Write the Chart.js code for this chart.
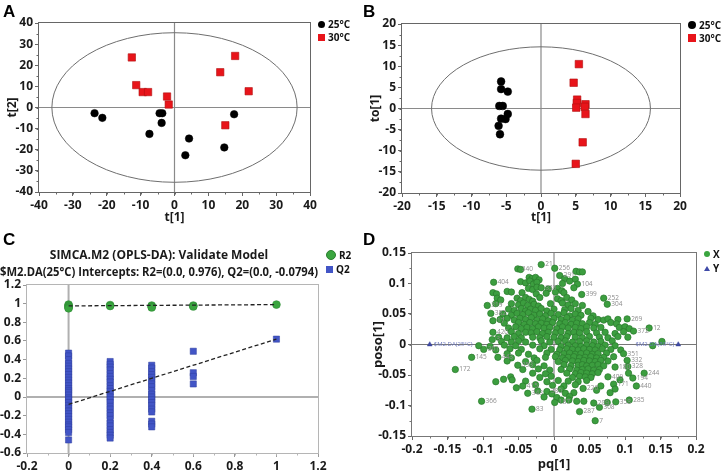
<!DOCTYPE html>
<html><head><meta charset="utf-8">
<script src="https://cdn.jsdelivr.net/npm/chart.js@4.4.1/dist/chart.umd.min.js"></script>
<style>
html,body{margin:0;padding:0;background:#fff;}
#wrap{position:relative;width:721px;height:473px;overflow:hidden;font-family:"Open Sans",sans-serif;}
canvas{position:absolute;}
.letter{position:absolute;font:bold 17px/17px "Liberation Sans",Arial,sans-serif;color:#000;}
.leg{position:absolute;font:bold 10px/12px "Open Sans",sans-serif;color:#111;white-space:nowrap;display:flex;align-items:center;}
.mk{display:inline-block;margin-right:3px;}
</style></head><body>
<div id="wrap">
<canvas id="cA" width="360" height="230" style="left:0;top:0"></canvas>
<canvas id="cB" width="361" height="230" style="left:360px;top:0"></canvas>
<canvas id="cC" width="360" height="243" style="left:0;top:230px"></canvas>
<canvas id="cD" width="361" height="243" style="left:360px;top:230px"></canvas>
<div class="letter" style="left:3px;top:3px">A</div>
<div class="letter" style="left:363px;top:3px">B</div>
<div class="letter" style="left:3px;top:231px">C</div>
<div class="letter" style="left:363px;top:231px">D</div>
<div class="leg" style="left:318px;top:18px"><span class="mk" style="width:7px;height:7px;border-radius:50%;background:#000"></span>25°C</div>
<div class="leg" style="left:318px;top:31px"><span class="mk" style="width:7px;height:7px;background:#e8141a"></span>30°C</div>
<div class="leg" style="left:688px;top:19px"><span class="mk" style="width:8px;height:8px;border-radius:50%;background:#000"></span>25°C</div>
<div class="leg" style="left:688px;top:32px"><span class="mk" style="width:8px;height:8px;background:#e8141a"></span>30°C</div>
<div class="leg" style="left:326px;top:249px"><span class="mk" style="width:8px;height:8px;border-radius:50%;background:#3aa53f;border:0.5px solid #2a7d2e"></span>R2</div>
<div class="leg" style="left:326px;top:263px"><span class="mk" style="width:7px;height:7px;background:#4255c6"></span>Q2</div>
<div class="leg" style="left:704px;top:248px"><span class="mk" style="width:6px;height:6px;border-radius:50%;background:#3aa53f"></span>X</div>
<div class="leg" style="left:704px;top:262px"><span class="mk" style="width:0;height:0;border-left:3px solid transparent;border-right:3px solid transparent;border-bottom:5px solid #3f4aa8"></span>Y</div>
</div>
<script>
// ---------- DATA ----------
// Panel A: PCA scores t[1], t[2]
const scoresA25 = [[-23.6,-2.7],[-21.3,-4.9],[-4.4,-2.7],[-3.6,-2.7],[-3.8,-7.3],[-7.4,-12.5],[4.3,-14.7],[3.2,-22.6],[14.7,-18.9],[17.6,-3.2]];
const scoresA30 = [[-12.6,23.7],[-11.3,10.6],[-9.4,7.3],[-7.8,7.3],[-2.2,5.2],[-1.7,1.4],[13.5,16.7],[17.9,24.4],[21.9,7.7],[15.0,-8.4]];
const ellipseA = [36.2, 35.4];
const ticksA = [-40,-30,-20,-10,0,10,20,30,40];
// Panel B: OPLS-DA scores t[1], to[1]
const scoresB25 = [[-5.74,6.4],[-5.74,4.6],[-4.78,4.0],[-6.0,0.6],[-5.5,0.6],[-4.78,-1.3],[-5.74,-2.4],[-5.1,-2.5],[-6.1,-4.1],[-5.9,-6.1]];
const scoresB30 = [[5.45,10.5],[4.7,6.1],[5.2,2.1],[5.16,1.3],[5.07,0.2],[6.4,1.0],[6.3,0.4],[6.4,-1.3],[6.0,-8.0],[5.0,-13.1]];
const ellipseB = [15.75, 14.6];
const ticksB = [-20,-15,-10,-5,0,5,10,15,20];
// Panel C: permutation test
const permR2 = [[0,0.99],[0,0.98],[0,0.97],[0,0.96],[0,0.95],[0.2,0.985],[0.2,0.975],[0.4,0.98],[0.4,0.97],[0.4,0.96],[0.6,0.98],[0.6,0.97],[1,0.99]];
const permQ2 = [
 [0,0.47],[0,0.44],[0,0.40],[0,0.36],[0,0.33],[0,0.30],[0,0.27],[0,0.24],[0,0.21],[0,0.18],[0,0.15],[0,0.12],[0,0.09],[0,0.07],[0,0.05],[0,0.02],[0,-0.01],[0,-0.03],[0,-0.06],[0,-0.09],[0,-0.12],[0,-0.15],[0,-0.18],[0,-0.21],[0,-0.24],[0,-0.27],[0,-0.30],[0,-0.32],[0,-0.35],[0,-0.38],[0,-0.46],
 [0.2,0.38],[0.2,0.35],[0.2,0.32],[0.2,0.29],[0.2,0.25],[0.2,0.22],[0.2,0.19],[0.2,0.16],[0.2,0.12],[0.2,0.09],[0.2,0.06],[0.2,0.03],[0.2,0.0],[0.2,-0.03],[0.2,-0.06],[0.2,-0.10],[0.2,-0.13],[0.2,-0.17],[0.2,-0.20],[0.2,-0.24],[0.2,-0.28],[0.2,-0.31],[0.2,-0.35],[0.2,-0.38],[0.2,-0.41],[0.2,-0.44],
 [0.4,0.34],[0.4,0.31],[0.4,0.27],[0.4,0.24],[0.4,0.21],[0.4,0.18],[0.4,0.14],[0.4,0.11],[0.4,0.07],[0.4,0.03],[0.4,0.0],[0.4,-0.03],[0.4,-0.06],[0.4,-0.09],[0.4,-0.13],[0.4,-0.16],[0.4,-0.26],[0.4,-0.29],[0.4,-0.32],
 [0.6,0.49],[0.6,0.26],[0.6,0.22],[0.6,0.14],[1,0.62]];
const fitR2 = [[0,0.976],[1,0.99]];
const fitQ2 = [[0,-0.0794],[1,0.62]];
const ticksCx = [-0.2,0,0.2,0.4,0.6,0.8,1,1.2];
const ticksCy = [-0.6,-0.4,-0.2,0,0.2,0.4,0.6,0.8,1,1.2];
const titleC = ["SIMCA.M2 (OPLS-DA): Validate Model","$M2.DA(25°C) Intercepts: R2=(0.0, 0.976), Q2=(0.0, -0.0794)"];
// Panel D: loadings pq[1], poso[1] (optional label)
const loadX = [
[-0.018,0.131,'21'],[0.001,0.125,'256'],[-0.051,0.124,'340'],[-0.047,0.123],[0.031,0.120],[0.036,0.119],[0.040,0.119],
[-0.035,0.110],[-0.031,0.108],[-0.026,0.110],[-0.021,0.106],[0.008,0.113,'291'],[0.015,0.108],[0.030,0.107],
[-0.085,0.102,'404'],[-0.047,0.103],[-0.040,0.101],[-0.034,0.104],[-0.029,0.099],[-0.024,0.102],[0.012,0.100],[0.022,0.104],[0.033,0.099,'104'],
[-0.036,0.092],[-0.030,0.090],[-0.024,0.094],[-0.018,0.093,'333'],[-0.008,0.091],[0.005,0.092],[0.011,0.088],[0.028,0.093],
[-0.086,0.085],[-0.081,0.083],[-0.066,0.087],[-0.060,0.086],[-0.045,0.085],[-0.025,0.083],[-0.011,0.084],[0.002,0.086],[0.014,0.085],[0.039,0.082,'399'],
[-0.080,0.076],[-0.075,0.073],[-0.052,0.076],[-0.047,0.072],[-0.040,0.077],[-0.035,0.074],[-0.030,0.071],[-0.020,0.077],[0.005,0.075],[0.010,0.072],[0.018,0.077],[0.025,0.073],[0.070,0.076,'252'],
[-0.094,0.064,'319'],[-0.082,0.067],[-0.060,0.067],[-0.050,0.065],[-0.043,0.068],[-0.037,0.064],[-0.028,0.066],[-0.022,0.063],[-0.005,0.067],[0.012,0.068],[0.020,0.065],[0.030,0.067],[0.040,0.064],[0.075,0.066,'304'],
[-0.064,0.058],[-0.056,0.056],[-0.046,0.059],[-0.040,0.055],[-0.033,0.058],[-0.026,0.056],[-0.018,0.059],[-0.010,0.055],[0.000,0.058],[0.015,0.057],[0.024,0.059],[0.034,0.056],[0.048,0.054],
[-0.089,0.051,'382'],[-0.072,0.050],[-0.060,0.048],[-0.052,0.051],[-0.044,0.049],[-0.036,0.052],[-0.028,0.048],[-0.020,0.050],[-0.012,0.047],[-0.004,0.051],[0.006,0.049],[0.014,0.052],[0.022,0.047],[0.030,0.050],[0.038,0.048],[0.055,0.047],
[-0.086,0.039,'17'],[-0.076,0.041],[-0.066,0.043],[-0.056,0.040],[-0.048,0.043],[-0.040,0.041],[-0.032,0.044],[-0.024,0.040],[-0.016,0.042],[-0.008,0.039],[0.000,0.043],[0.010,0.041],[0.018,0.044],[0.026,0.040],[0.034,0.042],[0.052,0.043],[0.062,0.041],[0.070,0.040],[0.076,0.042],[0.090,0.041],[0.103,0.042,'269'],
[-0.070,0.035],[-0.050,0.036],[-0.042,0.033],[-0.034,0.036],[-0.026,0.034],[-0.018,0.035],[-0.010,0.033],[-0.002,0.036],[0.008,0.034],[0.016,0.036],[0.024,0.033],[0.032,0.035],[0.040,0.034],[0.050,0.036],[0.058,0.033],[0.080,0.036],[0.088,0.034],
[-0.064,0.027],[-0.054,0.029],[-0.046,0.026],[-0.038,0.028],[-0.030,0.026],[-0.022,0.029],[-0.014,0.027],[-0.006,0.028],[0.004,0.026],[0.012,0.029],[0.020,0.027],[0.030,0.028],[0.038,0.026],[0.046,0.029],[0.056,0.027],[0.066,0.028],[0.092,0.028],[0.100,0.029],[0.106,0.026],[0.134,0.027,'12'],
[-0.086,0.020,'420'],[-0.060,0.021],[-0.050,0.018],[-0.040,0.020],[-0.032,0.019],[-0.024,0.021],[-0.016,0.018],[-0.008,0.020],[0.002,0.019],[0.010,0.021],[0.020,0.018],[0.028,0.020],[0.036,0.019],[0.046,0.021],[0.060,0.019],[0.072,0.020],[0.086,0.018],[0.098,0.021],[0.112,0.022,'372'],
[-0.078,0.012],[-0.066,0.011],[-0.056,0.013],[-0.046,0.011],[-0.030,0.012],[-0.020,0.011],[-0.010,0.013],[0.000,0.012],[0.010,0.011],[0.018,0.013],[0.030,0.012],[0.040,0.011],[0.050,0.013],[0.064,0.012],[0.076,0.011],[0.090,0.013],[0.104,0.012],
[-0.087,0.008,'3'],[-0.074,0.005],[-0.060,0.004],[-0.050,0.006],[-0.040,0.004],[-0.018,0.006],[-0.006,0.004],[0.006,0.005],[0.016,0.006],[0.026,0.004],[0.036,0.005],[0.046,0.006],[0.056,0.004],[0.066,0.005],[0.082,0.006],[0.152,0.005],
[-0.106,-0.002],[-0.090,-0.003],[-0.070,-0.001],[-0.054,-0.002],[-0.030,-0.001],[-0.014,-0.002],[0.010,-0.003],[0.020,-0.001],[0.030,-0.002],[0.038,-0.003],[0.046,-0.001],[0.054,-0.002],[0.062,-0.003],[0.072,-0.001],[0.086,-0.002],[0.139,-0.002],
[-0.099,-0.008,'301'],[-0.082,-0.009],[-0.062,-0.007],[-0.046,-0.008],[-0.020,-0.007],[-0.004,-0.008],[0.008,-0.009],[0.018,-0.007],[0.026,-0.008],[0.034,-0.009],[0.042,-0.007],[0.050,-0.008],[0.058,-0.009],[0.068,-0.007],[0.080,-0.008],[0.094,-0.009],
[-0.066,-0.015],[-0.050,-0.014],[-0.036,-0.016],[-0.010,-0.014],[0.004,-0.016],[0.014,-0.015],[0.022,-0.014],[0.030,-0.016],[0.038,-0.015],[0.046,-0.014],[0.054,-0.016],[0.062,-0.015],[0.074,-0.014],[0.098,-0.015,'351'],
[-0.116,-0.021,'145'],[-0.079,-0.021,'443'],[-0.060,-0.022],[-0.028,-0.022],[-0.012,-0.021],[0.002,-0.020],[0.012,-0.022],[0.020,-0.021],[0.028,-0.020],[0.036,-0.022],[0.044,-0.021],[0.052,-0.020],[0.060,-0.022],[0.070,-0.021],[0.084,-0.020],
[-0.066,-0.027],[-0.040,-0.028],[-0.024,-0.026],[0.006,-0.028],[0.016,-0.026],[0.026,-0.027],[0.034,-0.028],[0.042,-0.026],[0.050,-0.027],[0.058,-0.028],[0.066,-0.026],[0.076,-0.027],[0.103,-0.026,'332'],
[-0.051,-0.034,'353'],[-0.030,-0.033],[-0.014,-0.035],[0.014,-0.033],[0.024,-0.035],[0.034,-0.034],[0.040,-0.033],[0.046,-0.035],[0.054,-0.034],[0.062,-0.033],[0.070,-0.035],[0.104,-0.036,'328'],
[-0.139,-0.041,'172'],[-0.044,-0.041],[-0.022,-0.040],[-0.006,-0.042],[0.010,-0.041],[0.022,-0.040],[0.032,-0.042],[0.040,-0.041],[0.048,-0.040],[0.056,-0.042],[0.064,-0.041],[0.086,-0.037,'180'],
[-0.030,-0.047],[-0.012,-0.048],[0.018,-0.047],[0.030,-0.048],[0.038,-0.046],[0.046,-0.047],[0.054,-0.048],[0.062,-0.046],[0.105,-0.047],[0.127,-0.047,'244'],
[-0.061,-0.053],[-0.020,-0.054],[-0.004,-0.052],[0.026,-0.054],[0.036,-0.052],[0.044,-0.053],[0.052,-0.054],[0.076,-0.053,'409'],[0.111,-0.055,'194'],
[-0.082,-0.061],[-0.071,-0.057],[-0.059,-0.058],[-0.040,-0.060],[-0.010,-0.061],[0.006,-0.059],[0.020,-0.060],[0.034,-0.061],[0.046,-0.059],[0.093,-0.058],
[-0.053,-0.071],[-0.044,-0.068,'415'],[-0.026,-0.066],[-0.002,-0.067],[0.014,-0.068],[0.030,-0.066],[0.066,-0.068],[0.084,-0.065,'171'],[0.116,-0.068,'440'],
[-0.023,-0.076],[0.010,-0.073],[0.041,-0.072,'226'],[0.060,-0.075],[0.086,-0.073],
[-0.037,-0.080,'343'],[-0.010,-0.077,'380'],[-0.003,-0.081],[0.016,-0.080],[0.028,-0.079],[0.079,-0.079],
[-0.014,-0.086],[0.004,-0.087],[0.022,-0.085],
[0.001,-0.095,'187'],[0.010,-0.091],[0.021,-0.091],[0.032,-0.093],[0.042,-0.093],[0.056,-0.096,'209'],[0.075,-0.095],[0.087,-0.094,'358'],[0.106,-0.091,'285'],[-0.102,-0.093,'366'],
[-0.031,-0.106,'83'],[0.036,-0.110,'287'],[0.064,-0.103,'308'],[0.058,-0.125,'7']];
const loadY = [[-0.175,0,'$M2.DA(25°C)'],[0.175,0,'$M2.DA(30°C)']];
const ticksDx = [-0.2,-0.15,-0.1,-0.05,0,0.05,0.1,0.15,0.2];
const ticksDy = [-0.15,-0.1,-0.05,0,0.05,0.1,0.15];

// ---------- HELPERS ----------
const FONT = '"Open Sans", sans-serif';
const pts = arr => arr.map(p => ({x:p[0], y:p[1], l:p[2]}));
const fmt = v => String(Math.round(v*1000)/1000);

const decor = {
  id:'decor',
  beforeDatasetsDraw(chart, args, o){
    const {ctx, chartArea:a, scales:{x,y}} = chart;
    ctx.save();
    if (o.zero){
      ctx.strokeStyle = o.zero.color; ctx.lineWidth = o.zero.width;
      const x0 = x.getPixelForValue(0), y0 = y.getPixelForValue(0);
      ctx.beginPath(); ctx.moveTo(x0,a.top); ctx.lineTo(x0,a.bottom);
      ctx.moveTo(a.left,y0); ctx.lineTo(a.right,y0); ctx.stroke();
    }
    if (o.ellipse){
      const cx = x.getPixelForValue(0), cy = y.getPixelForValue(0);
      const rx = Math.abs(x.getPixelForValue(o.ellipse[0]) - cx);
      const ry = Math.abs(y.getPixelForValue(o.ellipse[1]) - cy);
      ctx.strokeStyle = '#6e6e6e'; ctx.lineWidth = 1;
      ctx.beginPath(); ctx.ellipse(cx,cy,rx,ry,0,0,Math.PI*2); ctx.stroke();
    }
    ctx.strokeStyle = o.frame; ctx.lineWidth = 1;
    ctx.strokeRect(Math.round(a.left)-0.5, Math.round(a.top)-0.5, Math.round(a.right-a.left)+1, Math.round(a.bottom-a.top)+1);
    ctx.beginPath();
    if (o.minorX){
      for (let v = x.min + o.minorX; v < x.max - 1e-9; v += o.minorX){
        const px = Math.round(x.getPixelForValue(v)) + 0.5;
        ctx.moveTo(px, a.bottom); ctx.lineTo(px, a.bottom + 2.5);
      }
    }
    if (o.minorY){
      for (let v = y.min + o.minorY; v < y.max - 1e-9; v += o.minorY){
        const py = Math.round(y.getPixelForValue(v)) + 0.5;
        ctx.moveTo(a.left, py); ctx.lineTo(a.left - 2.5, py);
      }
    }
    ctx.stroke();
    ctx.restore();
  },
  afterDatasetsDraw(chart){
    const ctx = chart.ctx;
    chart.data.datasets.forEach((ds, i) => {
      if (!ds.ptLabel) return;
      const meta = chart.getDatasetMeta(i);
      ctx.save();
      ctx.font = ds.ptLabel.font; ctx.fillStyle = ds.ptLabel.color; ctx.textBaseline = 'middle';
      meta.data.forEach((el, j) => {
        const l = ds.data[j].l; if (!l) return;
        if (ds.ptLabel.flip && el.x > (chart.chartArea.left + chart.chartArea.right)/2){
          ctx.textAlign = 'right'; ctx.fillText(l, el.x - 4, el.y);
        } else { ctx.textAlign = 'left'; ctx.fillText(l, el.x + 4, el.y); }
      });
      ctx.restore();
    });
  }
};

function axis(ticks, opts){
  return {
    type:'linear', min:ticks[0], max:ticks[ticks.length-1],
    afterBuildTicks: s => { s.ticks = ticks.map(v => ({value:v})); },
    afterFit: s => { if (opts.w !== undefined) s.width = opts.w; if (opts.h !== undefined) s.height = opts.h; },
    grid:{drawOnChartArea:false, drawTicks:true, tickLength:opts.tl||4, tickColor:opts.tc||'#666'},
    border:{display:false},
    ticks:{color:'#1a1a1a', padding:opts.pad||2, font:{family:FONT, size:opts.fs||12, weight:'bold'}, callback:v => fmt(v), autoSkip:false, maxRotation:0},
    title: opts.title ? {display:true, text:opts.title, color:'#1a1a1a', font:{family:FONT, size:opts.tfs||12, weight:'bold', lineHeight:1.2}, padding:opts.tpad} : {display:false}
  };
}
const base = (pad, decorOpts, title) => ({
  animation:false, responsive:false, events:[],
  layout:{padding:pad},
  plugins:{legend:{display:false}, tooltip:{enabled:false}, title: title || {display:false}, decor:decorOpts}
});

// ---------- PANEL A ----------
new Chart(document.getElementById('cA'), {
  type:'scatter',
  data:{datasets:[
    {data:pts(scoresA25), pointStyle:'circle', pointRadius:3.8, backgroundColor:'#000', borderColor:'#000', borderWidth:0.5},
    {data:pts(scoresA30), pointStyle:'rect', pointRadius:5.2, backgroundColor:'#e8141a', borderColor:'#b01010', borderWidth:0.6}
  ]},
  options:Object.assign(base({left:0, top:23, right:50, bottom:0},
      {frame:'#666', zero:{color:'#8a8a8a', width:1.2}, ellipse:ellipseA, minorX:5, minorY:5}), {
    scales:{
      x:axis(ticksA, {h:38, title:'t[1]', tpad:{top:0, bottom:5}}),
      y:axis(ticksA, {w:39, title:'t[2]', tpad:{top:5, bottom:0}})
    }
  }),
  plugins:[decor]
});

// ---------- PANEL B ----------
new Chart(document.getElementById('cB'), {
  type:'scatter',
  data:{datasets:[
    {data:pts(scoresB25), pointStyle:'circle', pointRadius:3.9, backgroundColor:'#000', borderColor:'#000', borderWidth:0.5},
    {data:pts(scoresB30), pointStyle:'rect', pointRadius:5.3, backgroundColor:'#e8141a', borderColor:'#b01010', borderWidth:0.6}
  ]},
  options:Object.assign(base({left:0, top:24, right:41, bottom:0},
      {frame:'#666', zero:{color:'#8a8a8a', width:1.2}, ellipse:ellipseB, minorX:2.5, minorY:2.5}), {
    scales:{
      x:axis(ticksB, {h:37, title:'t[1]', tpad:{top:0, bottom:5}}),
      y:axis(ticksB, {w:42, title:'to[1]', tpad:{top:8, bottom:0}})
    }
  }),
  plugins:[decor]
});

// ---------- PANEL C ----------
new Chart(document.getElementById('cC'), {
  type:'scatter',
  data:{datasets:[
    {data:pts(fitR2), showLine:true, pointRadius:0, borderColor:'#222', borderWidth:1.3, borderDash:[4,2.5], fill:false},
    {data:pts(fitQ2), showLine:true, pointRadius:0, borderColor:'#222', borderWidth:1.3, borderDash:[4,2.5], fill:false},
    {data:pts(permR2), pointStyle:'circle', pointRadius:3.9, backgroundColor:'#3aa53f', borderColor:'#2e8c34', borderWidth:0.6},
    {data:pts(permQ2), pointStyle:'rect', pointRadius:4.4, backgroundColor:'#4255c6', borderColor:'#2f3f9e', borderWidth:0.5}
  ]},
  options:Object.assign(base({left:0, top:0, right:42, bottom:0},
      {frame:'#b5b5b5', zero:{color:'#b0b0b0', width:2}, minorX:0.1},
      {display:true, text:titleC, color:'#1a1a1a', font:{family:FONT, size:12, weight:'bold', lineHeight:1.4}, padding:{top:17.6, bottom:3.8}}), {
    scales:{
      x:axis(ticksCx, {h:20, tc:'#999'}),
      y:axis(ticksCy, {w:27, tc:'#999'})
    }
  }),
  plugins:[decor]
});

// ---------- PANEL D ----------
new Chart(document.getElementById('cD'), {
  type:'scatter',
  data:{datasets:[
    {data:pts(loadY), pointStyle:'triangle', pointRadius:2.8, backgroundColor:'#3f4aa8', borderColor:'#2f3a90', borderWidth:0.5,
      ptLabel:{font:'6px "Open Sans"', color:'#6a76bb', flip:true}},
    {data:pts(loadX), pointStyle:'circle', pointRadius:3.2, backgroundColor:'#3c9e3f', borderColor:'#2a7a2d', borderWidth:0.7,
      ptLabel:{font:'6.5px "Open Sans"', color:'#8c8c8c', flip:false}}
  ]},
  options:Object.assign(base({left:0, top:23, right:25, bottom:0},
      {frame:'#777', zero:{color:'#777', width:1}, minorX:0.025, minorY:0.025}), {
    scales:{
      x:axis(ticksDx, {h:37, title:'pq[1]', tfs:13, tpad:{top:0, bottom:1}}),
      y:axis(ticksDy, {w:52, title:'poso[1]', tfs:13, tpad:{top:10, bottom:0}})
    }
  }),
  plugins:[decor]
});
</script>
</body></html>
